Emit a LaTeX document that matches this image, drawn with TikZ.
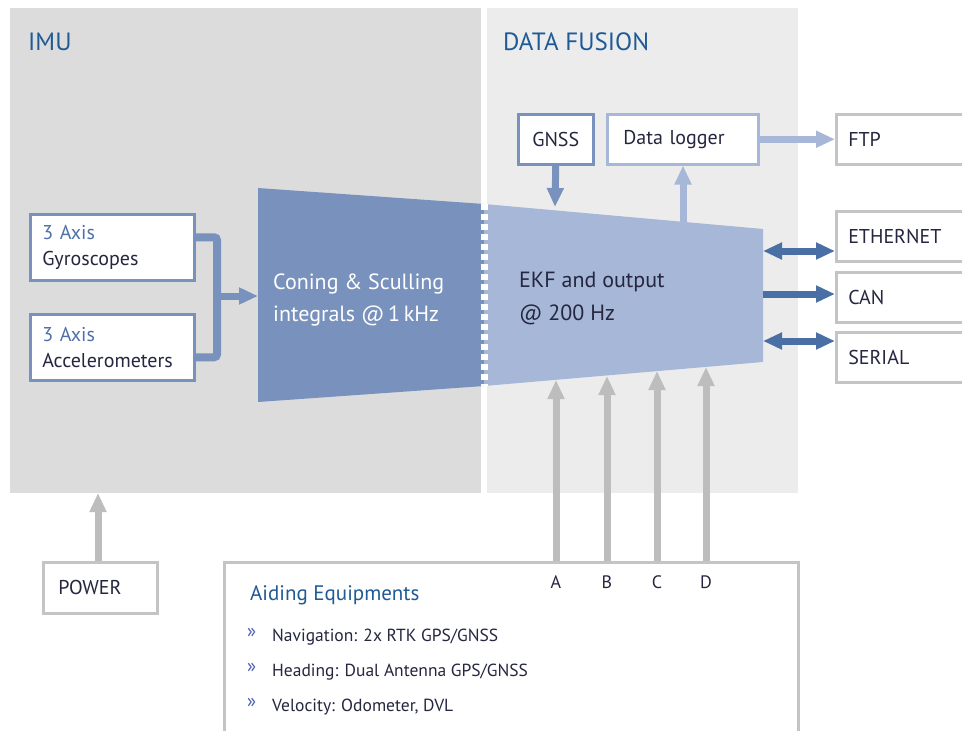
\documentclass[tikz,border=0pt]{standalone}
\usepackage{fontspec}
\setmainfont{PT Sans}
\usetikzlibrary{arrows.meta,positioning}
\definecolor{imugray}{HTML}{DCDCDC}
\definecolor{fusiongray}{HTML}{ECECEC}
\definecolor{titleblue}{HTML}{1F5A96}
\definecolor{coningblue}{HTML}{7891BD}
\definecolor{ekfblue}{HTML}{A7B7D7}
\definecolor{portblue}{HTML}{4A6FA5}
\definecolor{aidgray}{HTML}{BDBDBD}
\definecolor{boxgray}{HTML}{C4C4C4}
\definecolor{inkdark}{HTML}{25263F}
\definecolor{axisblue}{HTML}{4E71A9}
\definecolor{bulletblue}{HTML}{4A5FB0}
\tikzset{
	unit/.style={draw=#1, fill=white, line width=2.5pt, anchor=north west, inner xsep=12pt, inner ysep=0pt, align=left, text=inkdark, font=\fontsize{20}{26}\selectfont},
	heading/.style={anchor=base west, inner sep=0pt, text=titleblue, font=\fontsize{25}{28}\selectfont},
	flow/.style={line width=7pt, -{Triangle[length=19pt,width=16pt]}},
	duplex/.style={line width=7pt, {Triangle[length=19pt,width=16pt]}-{Triangle[length=19pt,width=16pt]}},
	list/.style={anchor=base west, inner sep=0pt, text=inkdark, font=\fontsize{17.5}{22}\selectfont}
}
\begin{document}
\begin{tikzpicture}[x=1pt,y=-1pt]
	\useasboundingbox (0,0) rectangle (962,731);
	\fill[imugray] (10,8) rectangle (481,493);
	\fill[fusiongray] (487,8) rectangle (798,493);
	\node[heading] (imu) at (28,50) {IMU};
	\node[heading] (fusion) at (503,50) {DATA FUSION};
	
	\fill[coningblue] (258,188) -- (484,204) -- (484,386) -- (258,402) -- cycle;
	\fill[ekfblue] (484,204) -- (763,229) -- (763,362) -- (484,386) -- cycle;
	\draw[white, line width=7pt, dash pattern=on 6pt off 4pt] (484,204) -- (484,386);
	\node[anchor=north west, align=left, inner sep=0pt, text=white, font=\fontsize{22}{32}\selectfont] (coning) at (273,274) {Coning \& Sculling\\integrals @\,1\,kHz};
	\node[anchor=north west, align=left, inner sep=0pt, text=inkdark, font=\fontsize{22}{33}\selectfont] (ekf) at (519,272) {EKF and output\\@ 200 Hz};
	
	\node[unit=coningblue, minimum height=66pt, text width=140pt] (gyro) at (29,213) {\textcolor{axisblue}{3 Axis}\\Gyroscopes};
	\node[unit=coningblue, minimum height=66pt, text width=140pt] (accel) at (29,313) {\textcolor{axisblue}{3 Axis}\\Accelerometers};
	\coordinate (join) at (217,296);
	\coordinate (coningin) at (258,296);
	\draw[coningblue, line width=8pt, rounded corners=3pt] ([yshift=10pt]gyro.east) -| (join) |- ([yshift=-10pt]accel.east);
	\draw[flow, coningblue] (join) -- (coningin);
	
	\node[unit=coningblue, inner xsep=0pt, minimum width=75pt, minimum height=50pt] (gnss) at (517,113) {GNSS};
	\node[unit=ekfblue, inner xsep=16pt, text width=119pt, minimum height=50pt] (logger) at (606,113) {Data logger};
	\node[unit=boxgray, inner xsep=12pt, text width=126pt, minimum height=50pt] (ftp) at (835,113) {FTP};
	\node[unit=boxgray, inner xsep=12pt, text width=126pt, minimum height=50pt] (ethernet) at (835,210) {ETHERNET};
	\node[unit=boxgray, inner xsep=12pt, text width=126pt, minimum height=50pt] (can) at (835,271) {CAN};
	\node[unit=boxgray, inner xsep=12pt, text width=126pt, minimum height=50pt] (serial) at (835,331) {SERIAL};
	
	\coordinate (gnssin) at (555,207);
	\coordinate (logout) at (683,225);
	\draw[flow, coningblue] (gnss.south) -- (gnssin);
	\draw[flow, ekfblue] (logout) -- (logger.south -| logout);
	\draw[flow, ekfblue] (logger.east) -- (ftp.west);
	
	\coordinate (ekfeth) at (763,251);
	\coordinate (ekfcan) at (763,294);
	\coordinate (ekfser) at (763,341);
	\draw[duplex, portblue] (ekfeth) -- (ethernet.west |- ekfeth);
	\draw[flow, portblue] (ekfcan) -- (can.west |- ekfcan);
	\draw[duplex, portblue] (ekfser) -- (serial.west |- ekfser);
	
	\node[unit=boxgray, inner xsep=15pt, text width=84pt, minimum height=51pt] (power) at (42,561) {POWER};
	\coordinate (imubottom) at (98,493);
	\draw[flow, aidgray] (power.north -| imubottom) -- (imubottom);
	
	\node[unit=boxgray, minimum width=574pt, minimum height=190pt] (aid) at (223,561) {};
	\node[anchor=base west, inner sep=0pt, text=titleblue, font=\fontsize{21}{24}\selectfont] (aidtitle) at (250,600) {Aiding Equipments};
	\foreach \y/\item in {641/{Navigation: 2x RTK GPS/GNSS}, 676/{Heading: Dual Antenna GPS/GNSS}, 711/{Velocity: Odometer, DVL}} {
		\node[anchor=base west, inner sep=0pt, text=bulletblue, font=\fontsize{19}{19}\selectfont] (bullet\y) at (247,\y-4) {»};
		\node[list] (item\y) at (272,\y) {\item};
	}
	\foreach \name/\x/\y in {A/556/380, B/607/376, C/657/371, D/706/367} {
		\coordinate (ekf\name) at (\x,\y);
		\draw[flow, aidgray] (aid.north -| ekf\name) -- (ekf\name);
		\node[anchor=base, inner sep=0pt, text=inkdark, font=\fontsize{18}{18}\selectfont] (label\name) at (\x,588) {\name};
	}
\end{tikzpicture}
\end{document}
